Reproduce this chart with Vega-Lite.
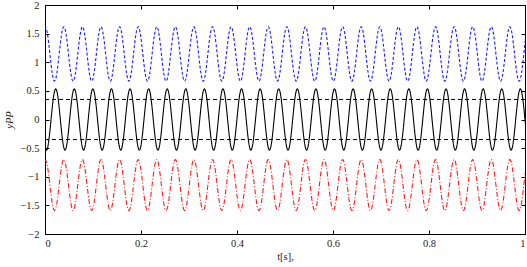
{
"$schema": "https://vega.github.io/schema/vega-lite/v6.json",
"width": 480, "height": 229,
"autosize": {"type": "none"},
"padding": {"left": 45, "top": 5, "right": 2, "bottom": 33},
"background": "white",
"config": {
  "view": {"stroke": "black", "strokeWidth": 1},
  "axis": {"grid": false, "domain": false, "labelFont": "Liberation Serif", "titleFont": "Liberation Serif", "labelFontSize": 10.5, "titleFontSize": 10.5, "titleFontWeight": "normal", "labelColor": "#222222", "titleColor": "#222222", "tickColor": "black", "tickSize": -4, "tickWidth": 1}
},
"resolve": {"axis": {"x": "independent", "y": "independent"}},
"layer": [
{
"data": {"values": [
{"t":-0.0019,"k":-0.378,"b":1.584,"r":-0.734},{"t":0.00294,"k":-0.535,"b":1.584,"r":-0.734},{"t":0.00778,"k":-0.378,"b":1.327,"r":-0.975},{"t":0.01262,"k":0,"b":0.963,"r":-1.315},{"t":0.01746,"k":0.378,"b":0.706,"r":-1.556},{"t":0.0223,"k":0.535,"b":0.706,"r":-1.556},{"t":0.02714,"k":0.378,"b":0.963,"r":-1.315},{"t":0.03198,"k":0,"b":1.327,"r":-0.975},
{"t":0.03682,"k":-0.378,"b":1.584,"r":-0.734},{"t":0.04166,"k":-0.535,"b":1.584,"r":-0.734},{"t":0.0465,"k":-0.378,"b":1.327,"r":-0.975},{"t":0.05134,"k":0,"b":0.963,"r":-1.315},{"t":0.05618,"k":0.378,"b":0.706,"r":-1.556},{"t":0.06102,"k":0.535,"b":0.706,"r":-1.556},{"t":0.06586,"k":0.378,"b":0.963,"r":-1.315},{"t":0.0707,"k":0,"b":1.327,"r":-0.975},
{"t":0.07554,"k":-0.378,"b":1.584,"r":-0.734},{"t":0.08038,"k":-0.535,"b":1.584,"r":-0.734},{"t":0.08522,"k":-0.378,"b":1.327,"r":-0.975},{"t":0.09006,"k":0,"b":0.963,"r":-1.315},{"t":0.0949,"k":0.378,"b":0.706,"r":-1.556},{"t":0.09974,"k":0.535,"b":0.706,"r":-1.556},{"t":0.10458,"k":0.378,"b":0.963,"r":-1.315},{"t":0.10942,"k":0,"b":1.327,"r":-0.975},
{"t":0.11426,"k":-0.378,"b":1.584,"r":-0.734},{"t":0.1191,"k":-0.535,"b":1.584,"r":-0.734},{"t":0.12394,"k":-0.378,"b":1.327,"r":-0.975},{"t":0.12878,"k":0,"b":0.963,"r":-1.315},{"t":0.13362,"k":0.378,"b":0.706,"r":-1.556},{"t":0.13846,"k":0.535,"b":0.706,"r":-1.556},{"t":0.1433,"k":0.378,"b":0.963,"r":-1.315},{"t":0.14814,"k":0,"b":1.327,"r":-0.975},
{"t":0.15298,"k":-0.378,"b":1.584,"r":-0.734},{"t":0.15782,"k":-0.535,"b":1.584,"r":-0.734},{"t":0.16266,"k":-0.378,"b":1.327,"r":-0.975},{"t":0.1675,"k":0,"b":0.963,"r":-1.315},{"t":0.17234,"k":0.378,"b":0.706,"r":-1.556},{"t":0.17718,"k":0.535,"b":0.706,"r":-1.556},{"t":0.18202,"k":0.378,"b":0.963,"r":-1.315},{"t":0.18686,"k":0,"b":1.327,"r":-0.975},
{"t":0.1917,"k":-0.378,"b":1.584,"r":-0.734},{"t":0.19654,"k":-0.535,"b":1.584,"r":-0.734},{"t":0.20138,"k":-0.378,"b":1.327,"r":-0.975},{"t":0.20622,"k":0,"b":0.963,"r":-1.315},{"t":0.21106,"k":0.378,"b":0.706,"r":-1.556},{"t":0.2159,"k":0.535,"b":0.706,"r":-1.556},{"t":0.22074,"k":0.378,"b":0.963,"r":-1.315},{"t":0.22558,"k":0,"b":1.327,"r":-0.975},
{"t":0.23042,"k":-0.378,"b":1.584,"r":-0.734},{"t":0.23526,"k":-0.535,"b":1.584,"r":-0.734},{"t":0.2401,"k":-0.378,"b":1.327,"r":-0.975},{"t":0.24494,"k":0,"b":0.963,"r":-1.315},{"t":0.24978,"k":0.378,"b":0.706,"r":-1.556},{"t":0.25462,"k":0.535,"b":0.706,"r":-1.556},{"t":0.25946,"k":0.378,"b":0.963,"r":-1.315},{"t":0.2643,"k":0,"b":1.327,"r":-0.975},
{"t":0.26914,"k":-0.378,"b":1.584,"r":-0.734},{"t":0.27398,"k":-0.535,"b":1.584,"r":-0.734},{"t":0.27882,"k":-0.378,"b":1.327,"r":-0.975},{"t":0.28366,"k":0,"b":0.963,"r":-1.315},{"t":0.2885,"k":0.378,"b":0.706,"r":-1.556},{"t":0.29334,"k":0.535,"b":0.706,"r":-1.556},{"t":0.29818,"k":0.378,"b":0.963,"r":-1.315},{"t":0.30302,"k":0,"b":1.327,"r":-0.975},
{"t":0.30786,"k":-0.378,"b":1.584,"r":-0.734},{"t":0.3127,"k":-0.535,"b":1.584,"r":-0.734},{"t":0.31754,"k":-0.378,"b":1.327,"r":-0.975},{"t":0.32238,"k":0,"b":0.963,"r":-1.315},{"t":0.32722,"k":0.378,"b":0.706,"r":-1.556},{"t":0.33206,"k":0.535,"b":0.706,"r":-1.556},{"t":0.3369,"k":0.378,"b":0.963,"r":-1.315},{"t":0.34174,"k":0,"b":1.327,"r":-0.975},
{"t":0.34658,"k":-0.378,"b":1.584,"r":-0.734},{"t":0.35142,"k":-0.535,"b":1.584,"r":-0.734},{"t":0.35626,"k":-0.378,"b":1.327,"r":-0.975},{"t":0.3611,"k":0,"b":0.963,"r":-1.315},{"t":0.36594,"k":0.378,"b":0.706,"r":-1.556},{"t":0.37078,"k":0.535,"b":0.706,"r":-1.556},{"t":0.37562,"k":0.378,"b":0.963,"r":-1.315},{"t":0.38046,"k":0,"b":1.327,"r":-0.975},
{"t":0.3853,"k":-0.378,"b":1.584,"r":-0.734},{"t":0.39014,"k":-0.535,"b":1.584,"r":-0.734},{"t":0.39498,"k":-0.378,"b":1.327,"r":-0.975},{"t":0.39982,"k":0,"b":0.963,"r":-1.315},{"t":0.40466,"k":0.378,"b":0.706,"r":-1.556},{"t":0.4095,"k":0.535,"b":0.706,"r":-1.556},{"t":0.41434,"k":0.378,"b":0.963,"r":-1.315},{"t":0.41918,"k":0,"b":1.327,"r":-0.975},
{"t":0.42402,"k":-0.378,"b":1.584,"r":-0.734},{"t":0.42886,"k":-0.535,"b":1.584,"r":-0.734},{"t":0.4337,"k":-0.378,"b":1.327,"r":-0.975},{"t":0.43854,"k":0,"b":0.963,"r":-1.315},{"t":0.44338,"k":0.378,"b":0.706,"r":-1.556},{"t":0.44822,"k":0.535,"b":0.706,"r":-1.556},{"t":0.45306,"k":0.378,"b":0.963,"r":-1.315},{"t":0.4579,"k":0,"b":1.327,"r":-0.975},
{"t":0.46274,"k":-0.378,"b":1.584,"r":-0.734},{"t":0.46758,"k":-0.535,"b":1.584,"r":-0.734},{"t":0.47242,"k":-0.378,"b":1.327,"r":-0.975},{"t":0.47726,"k":0,"b":0.963,"r":-1.315},{"t":0.4821,"k":0.378,"b":0.706,"r":-1.556},{"t":0.48694,"k":0.535,"b":0.706,"r":-1.556},{"t":0.49178,"k":0.378,"b":0.963,"r":-1.315},{"t":0.49662,"k":0,"b":1.327,"r":-0.975},
{"t":0.50146,"k":-0.378,"b":1.584,"r":-0.734},{"t":0.5063,"k":-0.535,"b":1.584,"r":-0.734},{"t":0.51114,"k":-0.378,"b":1.327,"r":-0.975},{"t":0.51598,"k":0,"b":0.963,"r":-1.315},{"t":0.52082,"k":0.378,"b":0.706,"r":-1.556},{"t":0.52566,"k":0.535,"b":0.706,"r":-1.556},{"t":0.5305,"k":0.378,"b":0.963,"r":-1.315},{"t":0.53534,"k":0,"b":1.327,"r":-0.975},
{"t":0.54018,"k":-0.378,"b":1.584,"r":-0.734},{"t":0.54502,"k":-0.535,"b":1.584,"r":-0.734},{"t":0.54986,"k":-0.378,"b":1.327,"r":-0.975},{"t":0.5547,"k":0,"b":0.963,"r":-1.315},{"t":0.55954,"k":0.378,"b":0.706,"r":-1.556},{"t":0.56438,"k":0.535,"b":0.706,"r":-1.556},{"t":0.56922,"k":0.378,"b":0.963,"r":-1.315},{"t":0.57406,"k":0,"b":1.327,"r":-0.975},
{"t":0.5789,"k":-0.378,"b":1.584,"r":-0.734},{"t":0.58374,"k":-0.535,"b":1.584,"r":-0.734},{"t":0.58858,"k":-0.378,"b":1.327,"r":-0.975},{"t":0.59342,"k":0,"b":0.963,"r":-1.315},{"t":0.59826,"k":0.378,"b":0.706,"r":-1.556},{"t":0.6031,"k":0.535,"b":0.706,"r":-1.556},{"t":0.60794,"k":0.378,"b":0.963,"r":-1.315},{"t":0.61278,"k":0,"b":1.327,"r":-0.975},
{"t":0.61762,"k":-0.378,"b":1.584,"r":-0.734},{"t":0.62246,"k":-0.535,"b":1.584,"r":-0.734},{"t":0.6273,"k":-0.378,"b":1.327,"r":-0.975},{"t":0.63214,"k":0,"b":0.963,"r":-1.315},{"t":0.63698,"k":0.378,"b":0.706,"r":-1.556},{"t":0.64182,"k":0.535,"b":0.706,"r":-1.556},{"t":0.64666,"k":0.378,"b":0.963,"r":-1.315},{"t":0.6515,"k":0,"b":1.327,"r":-0.975},
{"t":0.65634,"k":-0.378,"b":1.584,"r":-0.734},{"t":0.66118,"k":-0.535,"b":1.584,"r":-0.734},{"t":0.66602,"k":-0.378,"b":1.327,"r":-0.975},{"t":0.67086,"k":0,"b":0.963,"r":-1.315},{"t":0.6757,"k":0.378,"b":0.706,"r":-1.556},{"t":0.68054,"k":0.535,"b":0.706,"r":-1.556},{"t":0.68538,"k":0.378,"b":0.963,"r":-1.315},{"t":0.69022,"k":0,"b":1.327,"r":-0.975},
{"t":0.69506,"k":-0.378,"b":1.584,"r":-0.734},{"t":0.6999,"k":-0.535,"b":1.584,"r":-0.734},{"t":0.70474,"k":-0.378,"b":1.327,"r":-0.975},{"t":0.70958,"k":0,"b":0.963,"r":-1.315},{"t":0.71442,"k":0.378,"b":0.706,"r":-1.556},{"t":0.71926,"k":0.535,"b":0.706,"r":-1.556},{"t":0.7241,"k":0.378,"b":0.963,"r":-1.315},{"t":0.72894,"k":0,"b":1.327,"r":-0.975},
{"t":0.73378,"k":-0.378,"b":1.584,"r":-0.734},{"t":0.73862,"k":-0.535,"b":1.584,"r":-0.734},{"t":0.74346,"k":-0.378,"b":1.327,"r":-0.975},{"t":0.7483,"k":0,"b":0.963,"r":-1.315},{"t":0.75314,"k":0.378,"b":0.706,"r":-1.556},{"t":0.75798,"k":0.535,"b":0.706,"r":-1.556},{"t":0.76282,"k":0.378,"b":0.963,"r":-1.315},{"t":0.76766,"k":0,"b":1.327,"r":-0.975},
{"t":0.7725,"k":-0.378,"b":1.584,"r":-0.734},{"t":0.77734,"k":-0.535,"b":1.584,"r":-0.734},{"t":0.78218,"k":-0.378,"b":1.327,"r":-0.975},{"t":0.78702,"k":0,"b":0.963,"r":-1.315},{"t":0.79186,"k":0.378,"b":0.706,"r":-1.556},{"t":0.7967,"k":0.535,"b":0.706,"r":-1.556},{"t":0.80154,"k":0.378,"b":0.963,"r":-1.315},{"t":0.80638,"k":0,"b":1.327,"r":-0.975},
{"t":0.81122,"k":-0.378,"b":1.584,"r":-0.734},{"t":0.81606,"k":-0.535,"b":1.584,"r":-0.734},{"t":0.8209,"k":-0.378,"b":1.327,"r":-0.975},{"t":0.82574,"k":0,"b":0.963,"r":-1.315},{"t":0.83058,"k":0.378,"b":0.706,"r":-1.556},{"t":0.83542,"k":0.535,"b":0.706,"r":-1.556},{"t":0.84026,"k":0.378,"b":0.963,"r":-1.315},{"t":0.8451,"k":0,"b":1.327,"r":-0.975},
{"t":0.84994,"k":-0.378,"b":1.584,"r":-0.734},{"t":0.85478,"k":-0.535,"b":1.584,"r":-0.734},{"t":0.85962,"k":-0.378,"b":1.327,"r":-0.975},{"t":0.86446,"k":0,"b":0.963,"r":-1.315},{"t":0.8693,"k":0.378,"b":0.706,"r":-1.556},{"t":0.87414,"k":0.535,"b":0.706,"r":-1.556},{"t":0.87898,"k":0.378,"b":0.963,"r":-1.315},{"t":0.88382,"k":0,"b":1.327,"r":-0.975},
{"t":0.88866,"k":-0.378,"b":1.584,"r":-0.734},{"t":0.8935,"k":-0.535,"b":1.584,"r":-0.734},{"t":0.89834,"k":-0.378,"b":1.327,"r":-0.975},{"t":0.90318,"k":0,"b":0.963,"r":-1.315},{"t":0.90802,"k":0.378,"b":0.706,"r":-1.556},{"t":0.91286,"k":0.535,"b":0.706,"r":-1.556},{"t":0.9177,"k":0.378,"b":0.963,"r":-1.315},{"t":0.92254,"k":0,"b":1.327,"r":-0.975},
{"t":0.92738,"k":-0.378,"b":1.584,"r":-0.734},{"t":0.93222,"k":-0.535,"b":1.584,"r":-0.734},{"t":0.93706,"k":-0.378,"b":1.327,"r":-0.975},{"t":0.9419,"k":0,"b":0.963,"r":-1.315},{"t":0.94674,"k":0.378,"b":0.706,"r":-1.556},{"t":0.95158,"k":0.535,"b":0.706,"r":-1.556},{"t":0.95642,"k":0.378,"b":0.963,"r":-1.315},{"t":0.96126,"k":0,"b":1.327,"r":-0.975},
{"t":0.9661,"k":-0.378,"b":1.584,"r":-0.734},{"t":0.97094,"k":-0.535,"b":1.584,"r":-0.734},{"t":0.97578,"k":-0.378,"b":1.327,"r":-0.975},{"t":0.98062,"k":0,"b":0.963,"r":-1.315},{"t":0.98546,"k":0.378,"b":0.706,"r":-1.556},{"t":0.9903,"k":0.535,"b":0.706,"r":-1.556},{"t":0.99514,"k":0.378,"b":0.963,"r":-1.315},{"t":0.99998,"k":0,"b":1.327,"r":-0.975},
{"t":1.00482,"k":-0.378,"b":1.584,"r":-0.734}
]},
"transform": [{"fold": ["k", "b", "r"], "as": ["s", "y"]}],
"mark": {"type": "line", "interpolate": "natural", "clip": true, "strokeWidth": 1.1},
"encoding": {
  "x": {"field": "t", "type": "quantitative", "scale": {"domain": [0, 1], "nice": false}, "axis": {"orient": "top", "labels": false, "title": null, "values": [0, 0.2, 0.4, 0.6, 0.8, 1]}},
  "y": {"field": "y", "type": "quantitative", "scale": {"domain": [-2, 2], "nice": false}, "axis": {"orient": "right", "labels": false, "title": null, "values": [-2, -1.5, -1, -0.5, 0, 0.5, 1, 1.5, 2]}},
  "color": {"field": "s", "type": "nominal", "scale": {"domain": ["k", "b", "r"], "range": ["#000000", "#1a1aff", "#ff1a1a"]}, "legend": null},
  "strokeDash": {"field": "s", "type": "nominal", "scale": {"domain": ["k", "b", "r"], "range": [[1, 0], [3, 2], [5, 2, 1, 2]]}, "legend": null}
}
},
{
"data": {"values": [{"h": 0.35}, {"h": -0.35}]},
"mark": {"type": "rule", "strokeDash": [4, 3], "color": "black", "strokeWidth": 1},
"encoding": {
  "x": {"datum": 0, "type": "quantitative", "axis": {"orient": "bottom", "values": [0, 0.2, 0.4, 0.6, 0.8, 1], "format": ".1~f", "title": "t[s],", "labelPadding": 8, "titlePadding": 3}},
  "x2": {"datum": 1},
  "y": {"field": "h", "type": "quantitative", "axis": {"orient": "left", "values": [-2, -1.5, -1, -0.5, 0, 0.5, 1, 1.5, 2], "format": ".1~f", "title": "yPP", "titleFontStyle": "italic", "labelPadding": 10, "titlePadding": 5}}
}
}
]
}
